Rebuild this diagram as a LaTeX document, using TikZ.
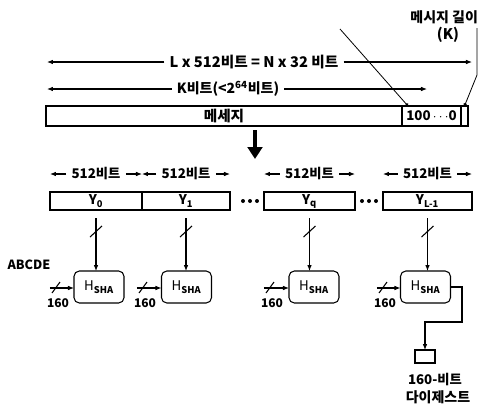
\documentclass[tikz,border=0pt]{standalone}
\usepackage{fontspec}
\setmainfont{Noto Sans CJK KR}
\usetikzlibrary{arrows.meta}
\begin{document}
\begin{tikzpicture}[x=0.75pt,y=-0.75pt,
  every node/.style={inner sep=0pt, outer sep=0pt},
  big/.style={font=\fontsize{11}{13}\selectfont\bfseries},
  mid/.style={font=\fontsize{10}{12}\selectfont\bfseries},
  small/.style={font=\fontsize{9}{10}\selectfont\bfseries},
  lab/.style={inner xsep=4pt},
  arr/.style={-{Latex[length=4.5pt,width=3.5pt]}, line width=0.8pt},
  dotend/.style={-{Circle[length=2.5pt]}, line width=0.6pt},
  bar/.style={draw, line width=0.8pt, minimum height=15pt},
  blk/.style={draw, line width=0.8pt, minimum height=13.5pt, font=\fontsize{10}{12}\selectfont\bfseries},
  hbox/.style={draw, line width=0.8pt, rounded corners=4pt, minimum width=37.5pt, minimum height=24pt, font=\fontsize{10}{12}\selectfont},
  tick/.style={line width=0.8pt}]
\useasboundingbox (0,0) rectangle (480,405);

% top labels
\node[big, anchor=east, font=\fontsize{10.5}{12}\selectfont\bfseries] (mlen) at (478,17) {메시지 길이};
\node[big] (kk) at (448,35) {(K)};

% length arrows
\coordinate (La) at (47,62);
\coordinate (Lb) at (472,62);
\node[big, lab] (Lt) at (254,62) {L x 512비트 = N x 32 비트};
\draw[arr] (Lt.west) -- (La);
\draw[arr] (Lt.east) -- (Lb);
\coordinate (Ka) at (47,89);
\coordinate (Kb) at (427,89);
\node[mid, lab, font=\fontsize{10.5}{12}\selectfont\bfseries] (Kt) at (228,89) {K비트(<2\textsuperscript{64}비트)};
\draw[arr] (Kt.west) -- (Ka);
\draw[arr] (Kt.east) -- (Kb);

% message bar
\node[bar, minimum width=267pt, font=\fontsize{11}{13}\selectfont\bfseries] (msg) at (224,116) {메세지};
\node[bar, minimum width=44.25pt, anchor=west, mid] (pad) at (msg.east) {100\,$\cdots$0};
\node[bar, minimum width=5.25pt, anchor=west] (len) at (pad.east) {};

% pointers
\coordinate (d1) at (340,29);
\draw[dotend] (d1) -- ([xshift=6*0.75pt]pad.north west);
\coordinate (d2) at (477,28);
\coordinate (d3) at (477,75);
\draw[dotend] (d2) -- (d3) -- (len.north);

% big down arrow
\coordinate (ba) at (255,130);
\coordinate (bb) at (255,159);
\draw[line width=3.5pt, -{Triangle[length=9pt,width=11pt]}] (ba) -- (bb);

% blocks
\node[blk, minimum width=69pt] (Y0) at (96,201) {Y\textsubscript{0}};
\node[blk, minimum width=66pt] (Y1) at (186,201) {Y\textsubscript{1}};
\node[blk, minimum width=68.25pt] (Yq) at (309.5,201) {Y\textsubscript{q}};
\node[blk, minimum width=66.75pt] (YL) at (427.5,201) {Y\textsubscript{L-1}};

% dots
\foreach \x in {243,250,257} \fill (\x,201) circle (2);
\foreach \x in {362,369,376} \fill (\x,201) circle (2);

% 512 labels
\foreach \n in {Y0,Y1,Yq,YL}{
  \node[mid, lab] (t\n) at ([yshift=18*0.75pt]\n.north) {512비트};
  \draw[arr] (t\n.west) -- ([yshift=18*0.75pt]\n.north west);
  \draw[arr] (t\n.east) -- ([yshift=18*0.75pt]\n.north east);
}

% H boxes
\node[hbox] (H1) at (99,287) {H\textsubscript{\bfseries SHA}};
\node[hbox] (H2) at (186.5,287) {H\textsubscript{\bfseries SHA}};
\node[hbox] (H3) at (314,287) {H\textsubscript{\bfseries SHA}};
\node[hbox] (H4) at (425.5,287) {H\textsubscript{\bfseries SHA}};

% vertical feeds
\foreach \y/\h in {Y0/H1,Y1/H2,Yq/H3,YL/H4}{
  \draw[arr] ([yshift=-8*0.75pt]\y.south) -- (\y.south |- \h.north);
  \draw[tick] ([xshift=-6*0.75pt,yshift=-27*0.75pt]\y.south) -- ([xshift=6*0.75pt,yshift=-16*0.75pt]\y.south);
}

% chaining inputs
\node[small, font=\fontsize{9.5}{11}\selectfont\bfseries] (abc) at (29,265) {ABCDE};
\foreach \h/\x in {H1/50,H2/137,H3/264,H4/377}{
  \coordinate (in\h) at (\x,288);
  \draw[arr] (in\h) -- (\h.west |- in\h);
  \draw[tick] ([xshift=2*0.75pt,yshift=-5*0.75pt]in\h) -- ([xshift=10*0.75pt,yshift=6*0.75pt]in\h);
  \node[small] (n\h) at ([xshift=8*0.75pt,yshift=-15*0.75pt]in\h) {160};
}

% output
\node[draw, line width=0.8pt, minimum width=15pt, minimum height=9.75pt] (out) at (425,356.5) {};
\coordinate (o1) at (462,287);
\coordinate (o2) at (462,322);
\coordinate (o3) at (425,322);
\draw[arr] (H4.east |- o1) -- (o1) -- (o2) -- (o3) -- (out.north);
\node[mid] (ot1) at (435,380) {160-비트};
\node[mid, font=\fontsize{10.5}{12}\selectfont\bfseries] (ot2) at (438,397) {다이제스트};
\end{tikzpicture}
\end{document}
